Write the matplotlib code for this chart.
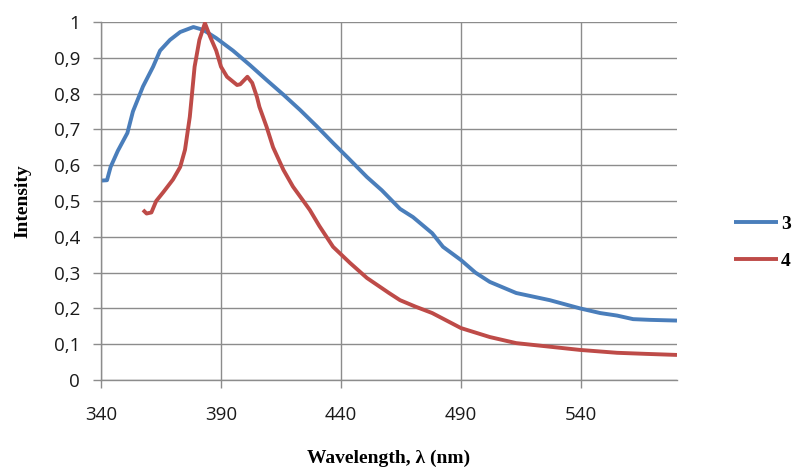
import matplotlib.pyplot as plt
from matplotlib.ticker import FuncFormatter

# Series 3 (blue)
wl3 = [340, 342.5, 344, 347, 351, 353.3, 357.5, 361.7, 364.6, 368.75, 373, 378.5,
       382.6, 388, 395, 402, 409, 416, 423, 430, 436.7, 443, 450.8, 457, 464.6,
       470, 478, 482.5, 490, 496, 502, 513, 527, 539.6, 548, 555, 561.7, 568.75, 580]
i3 = [0.557, 0.558, 0.595, 0.64, 0.69, 0.75, 0.82, 0.875, 0.92, 0.95, 0.972, 0.986,
      0.978, 0.955, 0.92, 0.88, 0.838, 0.797, 0.754, 0.708, 0.662, 0.62, 0.567, 0.53, 0.478,
      0.455, 0.41, 0.372, 0.335, 0.3, 0.274, 0.243, 0.223, 0.2, 0.187, 0.18, 0.17, 0.168, 0.166]

# Series 4 (red)
wl4 = [357.5, 359, 361, 363, 366, 370, 373, 375, 377, 379, 381, 383.3, 385.4, 388,
       390, 392.5, 396.7, 398, 401, 403, 405, 406, 409, 411.7, 416, 420, 424, 427,
       431, 436.7, 443.75, 450.8, 460, 464.6, 471, 478, 490, 502, 513, 527, 539.6,
       555, 567, 580]
i4 = [0.475, 0.465, 0.468, 0.5, 0.525, 0.56, 0.595, 0.643, 0.735, 0.875, 0.95, 0.997,
      0.96, 0.92, 0.875, 0.847, 0.824, 0.826, 0.847, 0.83, 0.79, 0.763, 0.707, 0.65,
      0.587, 0.54, 0.503, 0.475, 0.43, 0.372, 0.327, 0.285, 0.243, 0.223, 0.205, 0.187,
      0.145, 0.12, 0.103, 0.093, 0.084, 0.076, 0.073, 0.07]

x_ticks = [340, 390, 440, 490, 540]
y_ticks = [0, 0.1, 0.2, 0.3, 0.4, 0.5, 0.6, 0.7, 0.8, 0.9, 1]

fig = plt.figure(figsize=(7.96, 4.68), dpi=100)
ax = fig.add_axes([101 / 796, 88 / 468, 576 / 796, 358 / 468])

grid_col = '#8c8c8c'
ax.plot(wl3, i3, color='#4a7ebb', linewidth=2.8, label='3', solid_capstyle='butt')
ax.plot(wl4, i4, color='#be4b48', linewidth=2.8, label='4', solid_capstyle='butt')

ax.set_xlim(340, 580)
ax.set_ylim(0, 1)
ax.set_xticks(x_ticks)
ax.set_yticks(y_ticks)
ax.yaxis.set_major_formatter(FuncFormatter(lambda v, p: ('%g' % round(v, 1)).replace('.', ',')))
ax.grid(True, color=grid_col, linewidth=1)
ax.set_axisbelow(True)

for s in ['top', 'right']:
    ax.spines[s].set_visible(False)
for s in ['left', 'bottom']:
    ax.spines[s].set_color(grid_col)
    ax.spines[s].set_linewidth(1)

ax.tick_params(axis='both', colors=grid_col, length=6, width=1, labelcolor='#1a1a1a',
               labelsize=13.5)
ax.tick_params(axis='x', pad=13)
ax.tick_params(axis='y', pad=9)
for lab in ax.get_xticklabels() + ax.get_yticklabels():
    lab.set_family('Open Sans')

ax.set_xlabel('Wavelength, λ (nm)', family='Liberation Serif', fontweight='bold',
              fontsize=14, labelpad=18)
ax.set_ylabel('Intensity', family='Liberation Serif', fontweight='bold',
              fontsize=14, labelpad=16)

leg = fig.legend(loc='center left', bbox_to_anchor=(716 / 796, 1 - 242.5 / 468), frameon=False,
                 handlelength=2.3, handletextpad=0.15, labelspacing=1.0,
                 prop={'family': 'Liberation Serif', 'weight': 'bold', 'size': 14})

fig.savefig('out.png', dpi=100)
